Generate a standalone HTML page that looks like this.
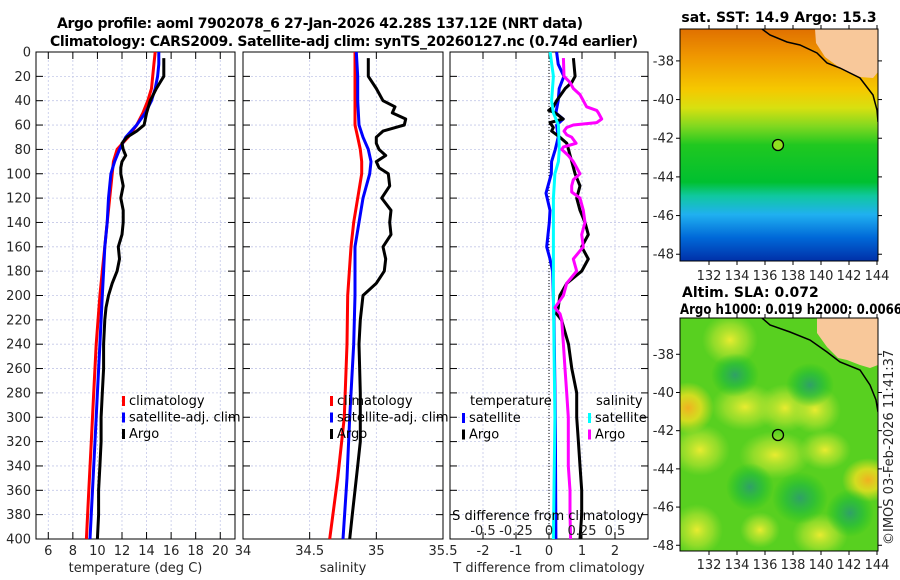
<!DOCTYPE html>
<html><head><meta charset="utf-8"><style>
html,body{margin:0;padding:0;background:#fff;}
svg{display:block;font-family:"DejaVu Sans","Liberation Sans",sans-serif;}
.tl{font-size:13px;fill:#262626;}
.tt{font-size:14px;font-weight:bold;fill:#000;}
.lg{font-size:13px;fill:#000;}
</style></head><body>
<svg id="fig" width="900" height="580" viewBox="0 0 900 580" xmlns="http://www.w3.org/2000/svg">
<defs>
<linearGradient id="sstg" x1="0" y1="0" x2="0" y2="1">
<stop offset="0" stop-color="#e07000"/><stop offset="0.12" stop-color="#f09800"/>
<stop offset="0.26" stop-color="#f5c800"/><stop offset="0.34" stop-color="#d8e010"/>
<stop offset="0.42" stop-color="#80d820"/><stop offset="0.5" stop-color="#20c820"/>
<stop offset="0.66" stop-color="#00c030"/><stop offset="0.72" stop-color="#10c8a0"/>
<stop offset="0.8" stop-color="#20b0f0"/><stop offset="0.9" stop-color="#0068d8"/>
<stop offset="1" stop-color="#0030a8"/></linearGradient>
<radialGradient id="yb"><stop offset="0" stop-color="#e8ec30"/><stop offset="0.6" stop-color="#b8e430" stop-opacity="0.6"/><stop offset="1" stop-color="#a0e030" stop-opacity="0"/></radialGradient>
<radialGradient id="ob"><stop offset="0" stop-color="#f0b020"/><stop offset="0.5" stop-color="#f0e020" stop-opacity="0.8"/><stop offset="1" stop-color="#f0e020" stop-opacity="0"/></radialGradient>
<radialGradient id="gb"><stop offset="0" stop-color="#30a068"/><stop offset="0.5" stop-color="#20b840" stop-opacity="0.7"/><stop offset="1" stop-color="#10c020" stop-opacity="0"/></radialGradient>
<clipPath id="m1c"><rect x="680" y="29" width="198" height="232"/></clipPath>
<clipPath id="m2c"><rect x="680" y="318" width="198" height="233"/></clipPath>
</defs>
<text class="tt" x="320" y="28" text-anchor="middle" textLength="526">Argo profile: aoml 7902078_6 27-Jan-2026 42.28S 137.12E (NRT data)</text>
<text class="tt" x="344" y="46" text-anchor="middle" textLength="588">Climatology: CARS2009. Satellite-adj clim: synTS_20260127.nc (0.74d earlier)</text>
<g id="plots"></g>
<g>
<g clip-path="url(#m1c)">
<rect x="680" y="29" width="198" height="232" fill="url(#sstg)"/>
<polygon points="815,29 816,43 825,57 840,68 860,77 873,78 878,72 878,29" fill="#f8c89a"/>
<polyline points="762,29 770,35 787,42 800,45 817,53 827,63 840,68 860,78 873,95 877,110 878,122" fill="none" stroke="#000" stroke-width="1.5"/>
</g>
<rect x="680" y="29" width="198" height="232" fill="none" stroke="#000" stroke-width="1"/>
<circle cx="778" cy="145" r="5.5" fill="#90e020" stroke="#000" stroke-width="1.3"/>
<text class="tt" x="779" y="22" text-anchor="middle">sat. SST: 14.9 Argo: 15.3</text>
</g>
<g>
<g clip-path="url(#m2c)">
<rect x="680" y="318" width="198" height="233" fill="#58d020"/>
<ellipse cx="730" cy="340" rx="28" ry="26" fill="url(#yb)"/>
<ellipse cx="688" cy="408" rx="26" ry="26" fill="url(#ob)"/>
<ellipse cx="745" cy="407" rx="34" ry="24" fill="url(#yb)"/>
<ellipse cx="785" cy="408" rx="28" ry="24" fill="url(#yb)"/>
<ellipse cx="815" cy="410" rx="26" ry="24" fill="url(#yb)"/>
<ellipse cx="868" cy="480" rx="26" ry="22" fill="url(#ob)"/>
<ellipse cx="700" cy="450" rx="30" ry="26" fill="url(#yb)"/>
<ellipse cx="775" cy="455" rx="36" ry="24" fill="url(#yb)"/>
<ellipse cx="825" cy="450" rx="26" ry="20" fill="url(#yb)"/>
<ellipse cx="697" cy="530" rx="26" ry="26" fill="url(#yb)"/>
<ellipse cx="820" cy="535" rx="28" ry="22" fill="url(#yb)"/>
<ellipse cx="760" cy="530" rx="20" ry="18" fill="url(#yb)"/>
<ellipse cx="810" cy="385" rx="24" ry="22" fill="url(#gb)"/>
<ellipse cx="800" cy="498" rx="28" ry="26" fill="url(#gb)"/>
<ellipse cx="850" cy="513" rx="24" ry="24" fill="url(#gb)"/>
<ellipse cx="750" cy="487" rx="24" ry="24" fill="url(#gb)"/>
<ellipse cx="735" cy="375" rx="24" ry="22" fill="url(#gb)"/>
<polygon points="817,318 817,333 827,347 838,358 847,360 860,365 870,368 878,365 878,318" fill="#f8c89a"/>
<polyline points="762,318 770,325 790,332 810,340 827,352 840,362 860,370 870,385 876,400 878,412" fill="none" stroke="#000" stroke-width="1.5"/>
</g>
<rect x="680" y="318" width="198" height="233" fill="none" stroke="#000" stroke-width="1"/>
<circle cx="778" cy="435" r="5.5" fill="none" stroke="#000" stroke-width="1.3"/>
<text class="tt" x="682" y="297">Altim. SLA: 0.072</text>
<text class="tt" x="680" y="314" textLength="222" lengthAdjust="spacingAndGlyphs">Argo h1000: 0.019 h2000: 0.0066</text>
</g>
<text class="tl" transform="translate(893,545) rotate(-90)">©IMOS 03-Feb-2026 11:41:37</text>
<g id="maps-axes"></g>
</svg>
<script>
const depthTicks=[0,20,40,60,80,100,120,140,160,180,200,220,240,260,280,300,320,340,360,380,400];
const climDepths=[0,10,20,30,40,50,60,70,80,90,100,120,140,160,180,200,240,280,320,360,400];
const tempClim=[14.7,14.6,14.5,14.4,14.1,13.7,13.2,12.5,11.6,11.3,11.2,11.0,10.8,10.6,10.4,10.2,9.9,9.7,9.5,9.3,9.1];
const tempSat=[15.0,15.0,14.9,14.7,14.4,13.9,13.2,12.3,11.8,11.4,11.1,10.9,10.8,10.6,10.5,10.4,10.2,10.0,9.8,9.6,9.4];
const argoDepths=[5,10,20,25,30,40,50,60,65,70,75,80,85,90,95,100,110,120,130,140,150,160,170,180,190,200,210,220,240,260,280,300,320,340,360,380,400];
const tempArgo=[15.4,15.4,15.4,15.1,14.8,14.3,14.0,13.8,13.2,12.4,12.0,12.1,12.3,12.0,11.9,11.9,12.1,11.9,12.1,12.1,12.0,11.7,11.8,11.6,11.2,10.9,10.7,10.6,10.5,10.5,10.4,10.3,10.3,10.2,10.1,10.1,10.0];
const salClimDepths=[0,20,40,60,70,80,90,100,120,140,160,200,240,300,350,400];
const salClim=[34.84,34.84,34.84,34.84,34.86,34.88,34.89,34.89,34.86,34.83,34.81,34.785,34.78,34.76,34.71,34.65];
const salSat=[34.85,34.86,34.86,34.87,34.90,34.94,34.96,34.95,34.90,34.87,34.84,34.84,34.83,34.80,34.78,34.75];
const salArgo=[34.94,34.94,34.94,34.97,35.0,35.05,35.14,35.12,35.22,35.21,35.05,35.0,35.0,35.02,35.07,35.0,35.02,35.09,35.1,35.04,35.11,35.1,35.11,35.05,35.07,35.06,35.0,34.9,34.88,34.87,34.88,34.88,34.88,34.86,34.84,34.82,34.80];
const salArgoDepths=[5,10,20,25,30,40,45,50,55,60,65,70,75,80,85,90,95,100,110,120,130,140,150,160,170,180,190,200,220,240,280,300,320,340,360,380,400];
const diffDepths=[0,10,20,30,40,50,55,60,70,80,90,100,116,130,140,160,170,180,200,220,300,400];
const tDiffSat=[0.23,0.28,0.45,0.31,0.28,0.21,0.43,0.23,0.28,0.19,0.08,0.07,-0.09,0.03,0.01,-0.07,0.03,0.11,0.13,0.15,0.19,0.21];
const tDiffArgoDepths=[5,20,25,30,40,45,48,50,55,58,62,65,70,75,80,85,90,100,110,120,130,140,150,160,170,180,190,200,210,215,220,240,260,280,300,320,340,360,380,400];
const tDiffArgo=[0.74,0.79,0.69,0.49,0.23,0.13,-0.01,0.19,0.43,0.03,0.13,0.08,0.33,0.54,0.59,0.64,0.69,0.79,0.94,0.84,0.94,1.09,1.19,0.99,1.19,0.99,0.54,0.33,0.28,0.23,0.38,0.59,0.69,0.84,0.84,0.89,0.94,0.99,0.99,0.94];
const sDiffSatDepths=[0,20,40,50,60,80,90,100,120,150,200,300,400];
const sDiffSat=[0.008,0.033,0.020,0.033,0.071,0.078,0.071,0.045,0.033,0.033,0.033,0.045,0.033];
const sDiffArgoDepths=[5,20,25,30,35,40,45,48,50,55,58,60,62,65,68,70,75,78,80,85,90,95,100,105,110,115,120,130,140,150,160,170,175,180,190,200,210,215,220,240,260,280,300,320,340,360,380,400];
const sDiffArgo=[0.109,0.114,0.159,0.184,0.235,0.260,0.285,0.361,0.374,0.399,0.361,0.184,0.134,0.114,0.134,0.172,0.205,0.109,0.096,0.146,0.184,0.210,0.235,0.184,0.172,0.172,0.235,0.260,0.273,0.248,0.260,0.184,0.197,0.210,0.134,0.109,0.045,0.083,0.096,0.109,0.121,0.134,0.146,0.146,0.146,0.159,0.159,0.164];
const tempTicks=[6,8,10,12,14,16,18,20];
const salTicks=[34,34.5,35,35.5];
const salTickLabels=["34","34.5","35","35.5"];
const tdTicks=[-2,-1,0,1,2];
const sdTicks=[-0.5,-0.25,0,0.25,0.5];
const sdTickLabels=["-0.5","-0.25","0","0.25","0.5"];
const latTicks=[-38,-40,-42,-44,-46,-48];
const lonTicks=[132,134,136,138,140,142,144];

const NS="http://www.w3.org/2000/svg";
const root=document.getElementById('plots');
function mk(tag,attrs,parent){const e=document.createElementNS(NS,tag);for(const k in attrs)e.setAttribute(k,attrs[k]);(parent||root).appendChild(e);return e;}
const Y0=52,Y1=539;
const yS=d=>Y0+(d/400)*(Y1-Y0);

function panel(name,x0,x1,dmin,dmax,ticks,labels,leftLabels,xtitle){
  const xS=v=>x0+(v-dmin)/(dmax-dmin)*(x1-x0);
  const g=mk('g',{});
  
  
  depthTicks.forEach(d=>{
    mk('line',{x1:x0,x2:x1,y1:yS(d),y2:yS(d),stroke:'#c4c8e8','stroke-width':0.8,'stroke-dasharray':'2,2'},g);
    mk('line',{x1:x0,x2:x0+7,y1:yS(d),y2:yS(d),stroke:'#000','stroke-width':1},g);
    mk('line',{x1:x1-7,x2:x1,y1:yS(d),y2:yS(d),stroke:'#000','stroke-width':1},g);
    if(leftLabels){const t=mk('text',{x:x0-5,y:yS(d)+4.5,'text-anchor':'end',class:'tl'},g);t.textContent=d;
      
      }
  });
  ticks.forEach((v,i)=>{
    const x=xS(v);
    mk('line',{x1:x,x2:x,y1:Y0,y2:Y1,stroke:'#c4c8e8','stroke-width':0.8,'stroke-dasharray':'2,2'},g);
    mk('line',{x1:x,x2:x,y1:Y1-7,y2:Y1,stroke:'#000','stroke-width':1},g);
    mk('line',{x1:x,x2:x,y1:Y0,y2:Y0+7,stroke:'#000','stroke-width':1},g);
    const t=mk('text',{x:x,y:555,'text-anchor':'middle',class:'tl'},g);t.textContent=labels[i];
    
    
  });
  mk('rect',{x:x0,y:Y0,width:x1-x0,height:Y1-Y0,fill:'none',stroke:'#000','stroke-width':1},g);
  const tt=mk('text',{x:(x0+x1)/2,y:572,'text-anchor':'middle',class:'tl'},g);tt.textContent=xtitle;
  
  
  return {xS,g};
}
function line(p,depths,vals,color,name){
  const pts=depths.map((d,i)=>p.xS(vals[i]).toFixed(1)+','+yS(d).toFixed(1)).join(' ');
  const e=mk('polyline',{points:pts,fill:'none',stroke:color,'stroke-width':3,'stroke-linejoin':'round'},p.g);
  
  
}
function legend(p,x,y,items){
  items.forEach((it,i)=>{
    mk('rect',{x:x,y:y+i*16.5-9,width:3,height:10,fill:it[1]},p.g);
    const t=mk('text',{x:x+7,y:y+i*16.5,class:'lg'},p.g);t.textContent=it[0];
    
    
  });
}
const p1=panel('temperature-panel',36,235,5,21.2,tempTicks,tempTicks.map(String),true,'temperature (deg C)');
line(p1,climDepths,tempClim,'#ff0000','temp-climatology-line');
line(p1,climDepths,tempSat,'#0000ff','temp-satellite-line');
line(p1,argoDepths,tempArgo,'#000000','temp-argo-line');
legend(p1,122,405,[['climatology','#ff0000'],['satellite-adj. clim','#0000ff'],['Argo','#000']]);
const p2=panel('salinity-panel',243,443,34,35.5,salTicks,salTickLabels,false,'salinity');
line(p2,salClimDepths,salClim,'#ff0000','sal-climatology-line');
line(p2,salClimDepths,salSat,'#0000ff','sal-satellite-line');
line(p2,salArgoDepths,salArgo,'#000000','sal-argo-line');
legend(p2,330,405,[['climatology','#ff0000'],['satellite-adj. clim','#0000ff'],['Argo','#000']]);
const p3=panel('difference-panel',450,648,-3,3,tdTicks,tdTicks.map(String),false,'T difference from climatology');
const zx=p3.xS(0);
mk('line',{x1:zx,x2:zx,y1:Y0,y2:Y1,stroke:'#000','stroke-width':1,'stroke-dasharray':'1,2'},p3.g);
const sx=v=>p3.xS(v*4);
line(p3,diffDepths,tDiffSat,'#0000ff','tdiff-satellite-line');
line(p3,tDiffArgoDepths,tDiffArgo,'#000000','tdiff-argo-line');
line({xS:sx,g:p3.g},sDiffSatDepths,sDiffSat,'#00ffff','sdiff-satellite-line');
line({xS:sx,g:p3.g},sDiffArgoDepths,sDiffArgo,'#ff00ff','sdiff-argo-line');
let tx=mk('text',{x:470,y:405,class:'lg'},p3.g);tx.textContent='temperature';
tx=mk('text',{x:596,y:405,class:'lg'},p3.g);tx.textContent='salinity';
legend(p3,462,422,[['satellite','#0000ff'],['Argo','#000']]);
legend(p3,588,422,[['satellite','#00ffff'],['Argo','#ff00ff']]);
tx=mk('text',{x:548,y:520,'text-anchor':'middle',class:'lg'},p3.g);tx.textContent='S difference from climatology';


sdTicks.forEach((v,i)=>{const t=mk('text',{x:sx(v),y:535,'text-anchor':'middle',class:'tl'},p3.g);t.textContent=sdTickLabels[i];
  
  });
const ma=document.getElementById('maps-axes');
function mapAxes(top,bot,latTop,latBot,lonLabelY){
  latTicks.forEach(l=>{
    const y=top+(latTop-l)/(latTop-latBot)*(bot-top);
    mk('line',{x1:676,x2:680,y1:y,y2:y,stroke:'#000'},ma);
    mk('line',{x1:878,x2:882,y1:y,y2:y,stroke:'#000'},ma);
    const t=mk('text',{x:674,y:y+4.5,'text-anchor':'end',class:'tl'},ma);t.textContent=l;
    
    
  });
  lonTicks.forEach(l=>{
    const x=709+(l-132)*14;
    mk('line',{x1:x,x2:x,y1:bot,y2:bot+4,stroke:'#000'},ma);
    mk('line',{x1:x,x2:x,y1:top-4,y2:top,stroke:'#000'},ma);
    const t=mk('text',{x:x,y:lonLabelY,'text-anchor':'middle',class:'tl'},ma);t.textContent=l;
    
    
  });
}
mapAxes(29,261,-36.35,-48.35,280);
mapAxes(318,551,-36.1,-48.3,569);
</script>
</body></html>
